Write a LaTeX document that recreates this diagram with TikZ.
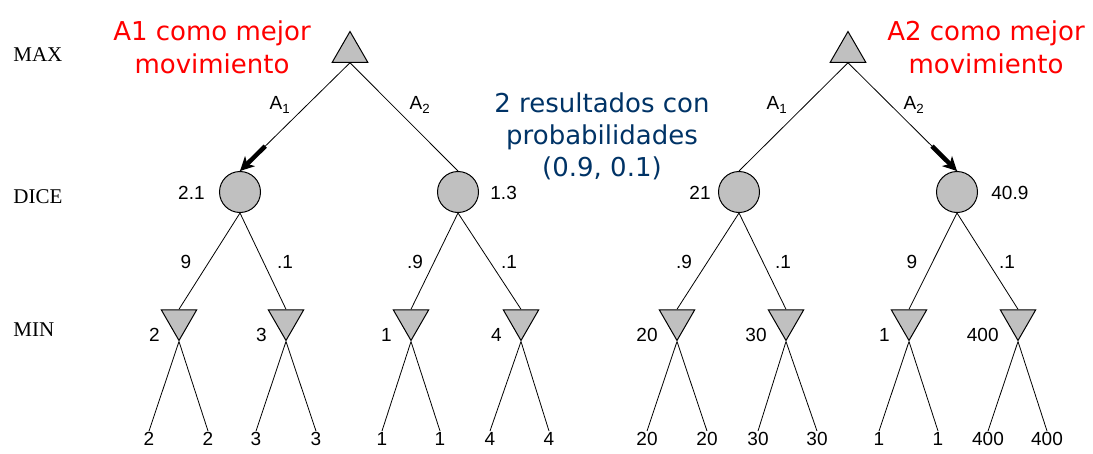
\documentclass[tikz,border=0pt]{standalone}
\usepackage{fontspec}
\setmainfont{Liberation Serif}
\newfontfamily\numfont{Liberation Sans}
\newfontfamily\notefont{DejaVu Sans}
\usepackage{tikz}
\usetikzlibrary{shapes.geometric,arrows.meta,calc}
\definecolor{notered}{RGB}{255,0,0}
\definecolor{noteblue}{RGB}{0,51,102}
\definecolor{nodegray}{RGB}{192,192,192}

\tikzset{
  maxnode/.style={regular polygon, regular polygon sides=3, draw, fill=nodegray,
    minimum size=41pt, inner sep=0pt, line width=1pt},
  minnode/.style={maxnode, shape border rotate=180},
  dicenode/.style={circle, draw, fill=nodegray, minimum size=41pt, inner sep=0pt, line width=1pt},
  rowlabel/.style={anchor=west, inner sep=0pt, font=\fontsize{21}{24}\selectfont},
  val/.style={inner sep=1pt, font=\numfont\fontsize{19}{22}\selectfont},
  note/.style={align=center, inner sep=0pt, font=\notefont\fontsize{26}{33}\selectfont},
  best/.style={line width=4.5pt, -{Stealth[length=14pt,width=14pt,inset=4pt]}},
}

\begin{document}
\begin{tikzpicture}[x=1pt, y=-1pt, line width=0.8pt]
  \useasboundingbox (0,0) rectangle (1093,453);

  % level names
  \node[rowlabel] (rmax) at (13,55) {MAX};
  \node[rowlabel] (rdice) at (13,197) {DICE};
  \node[rowlabel] (rmin) at (13,330) {MIN};

  % max and chance nodes
  \node[maxnode] (maxL) at (350,52) {};
  \node[maxnode] (maxR) at (848,52) {};
  \foreach \x [count=\i] in {240,458,739,957}
  {
    \node[dicenode] (d\i) at (\x,192) {};
  }

  % min nodes with their values
  \foreach \x/\v [count=\i] in {179/2,286/3,411/1,521/4,677/20,786/30,909/1,1018/400}
  {
    \node[minnode] (m\i) at (\x,320) {};
    \node[val, anchor=east] (mv\i) at (\x-18,335) {\v};
  }

  % leaves
  \foreach \x/\v [count=\i] in {149/2,208/2,256/3,316/3,382/1,440/1,490/4,549/4,
                                647/20,707/20,758/30,817/30,879/1,938/1,988/400,1047/400}
  {
    \node[val, anchor=north] (l\i) at (\x,431) {\v};
  }

  \foreach \i in {1,...,8}
  {
    \pgfmathtruncatemacro\ja{2*\i-1}
    \pgfmathtruncatemacro\jb{2*\i}
    \draw (m\i.south) -- (l\ja.north)
          (m\i.south) -- (l\jb.north);
  }

  \foreach \i in {1,...,4}
  {
    \pgfmathtruncatemacro\ja{2*\i-1}
    \pgfmathtruncatemacro\jb{2*\i}
    \draw (d\i.south) -- (m\ja.north)
          (d\i.south) -- (m\jb.north);
  }

  % moves, the chosen one marked
  \draw (maxL.south) -- (d1.north);
  \draw (maxL.south) -- (d2.north);
  \draw (maxR.south) -- (d3.north);
  \draw (maxR.south) -- (d4.north);
  \draw[best] ($(maxL.south)!0.77!(d1.north)$) -- (d1.north);
  \draw[best] ($(maxR.south)!0.77!(d4.north)$) -- (d4.north);

  \node[val] (a1L) at (280,105) {A\textsubscript{1}};
  \node[val] (a2L) at (420,105) {A\textsubscript{2}};
  \node[val] (a1R) at (777,105) {A\textsubscript{1}};
  \node[val] (a2R) at (914,105) {A\textsubscript{2}};

  % chance values
  \node[val, anchor=east] (dv1) at (206,193) {2.1};
  \node[val, anchor=west] (dv2) at (489,193) {1.3};
  \node[val, anchor=east] (dv3) at (712,193) {21};
  \node[val, anchor=west] (dv4) at (990,193) {40.9};

  % probabilities
  \foreach \x/\p [count=\i] in {186/9,285/.1,415/.9,509/.1,684/.9,783/.1,912/9,1007/.1}
  {
    \node[val] (p\i) at (\x,262) {\p};
  }

  % notes
  \node[note, text=notered] (bestL) at (212,47) {A1 como mejor\\movimiento};
  \node[note, text=notered] (bestR) at (986,47) {A2 como mejor\\movimiento};
  \node[note, text=noteblue, font=\notefont\fontsize{26}{32}\selectfont] (chance) at (602,136)
    {2 resultados con\\probabilidades\\(0.9, 0.1)};
\end{tikzpicture}
\end{document}
